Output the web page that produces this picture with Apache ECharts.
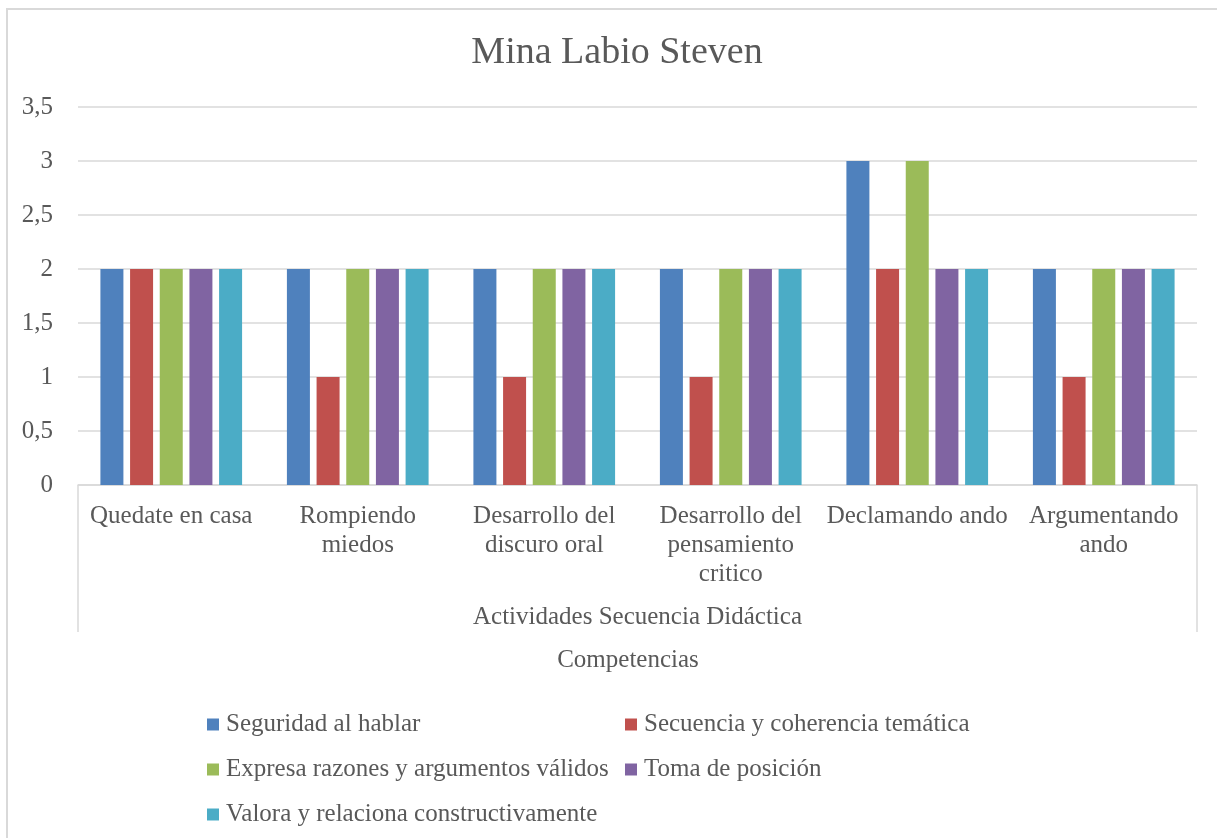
<!DOCTYPE html>
<html>
<head>
<meta charset="utf-8">
<title>Mina Labio Steven</title>
<script src="https://cdn.jsdelivr.net/npm/echarts@6/dist/echarts.min.js"></script>
<style>
  html, body { margin: 0; padding: 0; background: #fff; }
  #chart { width: 1217px; height: 838px; }
</style>
</head>
<body>
<div id="chart"></div>
<script>
// actividades (eje x)
const categorias = [
  'Quedate en casa',
  'Rompiendo\nmiedos',
  'Desarrollo del\ndiscuro oral',
  'Desarrollo del\npensamiento\ncritico',
  'Declamando ando',
  'Argumentando\nando'
]

// competencias (series)
const seguridad = [2, 2, 2, 2, 3, 2]
const secuencia = [2, 1, 1, 1, 2, 1]
const expresa = [2, 2, 2, 2, 3, 2]
const toma = [2, 2, 2, 2, 2, 2]
const valora = [2, 2, 2, 2, 2, 2]

const nombres = [
  'Seguridad al hablar',
  'Secuencia y coherencia temática',
  'Expresa razones y argumentos válidos',
  'Toma de posición',
  'Valora y relaciona constructivamente'
]
const valores = [seguridad, secuencia, expresa, toma, valora]
const colores = ['#4F81BD', '#C0504D', '#9BBB59', '#8064A2', '#4BACC6']

const FONT = '"Liberation Serif", "DejaVu Serif", serif'
const TXT = '#595959'
const FS = 25
const GRID_L = 78
const GRID_R = 20
const GRID_T = 107
const GRID_B = 353
const AXIS_Y = 838 - GRID_B

const chart = echarts.init(document.getElementById('chart'))

const series = nombres.map((n, i) => ({
  name: n,
  type: 'bar',
  data: valores[i],
  barWidth: 23,
  barGap: '29%',
  itemStyle: { color: colores[i] },
  emphasis: { disabled: true }
}))

const legendText = { fontFamily: FONT, fontSize: FS, color: TXT, lineHeight: 25, padding: [0, 0, 0, 2] }

chart.setOption({
  animation: false,
  textStyle: { fontFamily: FONT, color: TXT },
  grid: {
    left: GRID_L,
    right: GRID_R,
    top: GRID_T,
    bottom: GRID_B,
    containLabel: false,
    outerBoundsMode: 'none'
  },
  xAxis: {
    type: 'category',
    data: categorias,
    axisLine: { lineStyle: { color: '#d9d9d9', width: 1.5 } },
    axisTick: { show: false },
    axisLabel: {
      interval: 0,
      margin: 17,
      fontFamily: FONT,
      fontSize: FS,
      lineHeight: 29,
      color: TXT
    },
    name: 'Actividades Secuencia Didáctica',
    nameLocation: 'middle',
    nameGap: 132,
    nameTextStyle: {
      fontFamily: FONT,
      fontSize: FS,
      color: TXT,
      verticalAlign: 'middle'
    }
  },
  yAxis: {
    type: 'value',
    min: 0,
    max: 3.5,
    interval: 0.5,
    axisLine: { show: false },
    axisTick: { show: false },
    splitLine: { lineStyle: { color: '#d9d9d9', width: 1.5 } },
    axisLabel: {
      margin: 25,
      fontFamily: FONT,
      fontSize: FS,
      color: TXT,
      formatter: (v) => String(v).replace('.', ',')
    }
  },
  legend: [
    {
      orient: 'vertical',
      left: 207,
      top: 712,
      padding: 0,
      icon: 'rect',
      itemWidth: 12,
      itemHeight: 12,
      itemGap: 20,
      selectedMode: false,
      data: [nombres[0], nombres[2], nombres[4]],
      textStyle: legendText
    },
    {
      orient: 'vertical',
      left: 625,
      top: 712,
      padding: 0,
      icon: 'rect',
      itemWidth: 12,
      itemHeight: 12,
      itemGap: 20,
      selectedMode: false,
      data: [nombres[1], nombres[3]],
      textStyle: legendText
    }
  ],
  graphic: [
    {
      type: 'rect',
      silent: true,
      shape: { x: 7, y: 9, width: 1240, height: 860 },
      style: { fill: null, stroke: '#d9d9d9', lineWidth: 2 }
    },
    {
      type: 'line',
      silent: true,
      shape: { x1: GRID_L, y1: AXIS_Y, x2: GRID_L, y2: 632 },
      style: { stroke: '#d9d9d9', lineWidth: 1.5 }
    },
    {
      type: 'line',
      silent: true,
      shape: { x1: 1217 - GRID_R, y1: AXIS_Y, x2: 1217 - GRID_R, y2: 632 },
      style: { stroke: '#d9d9d9', lineWidth: 1.5 }
    },
    {
      type: 'text',
      silent: true,
      x: 617,
      y: 53,
      style: {
        text: 'Mina Labio Steven',
        fontFamily: FONT,
        fontSize: 38,
        fill: TXT,
        align: 'center',
        verticalAlign: 'middle'
      }
    },
    {
      type: 'text',
      silent: true,
      x: 628,
      y: 660,
      style: {
        text: 'Competencias',
        fontFamily: FONT,
        fontSize: FS,
        fill: TXT,
        align: 'center',
        verticalAlign: 'middle'
      }
    }
  ],
  series: series
})
</script>
</body>
</html>
